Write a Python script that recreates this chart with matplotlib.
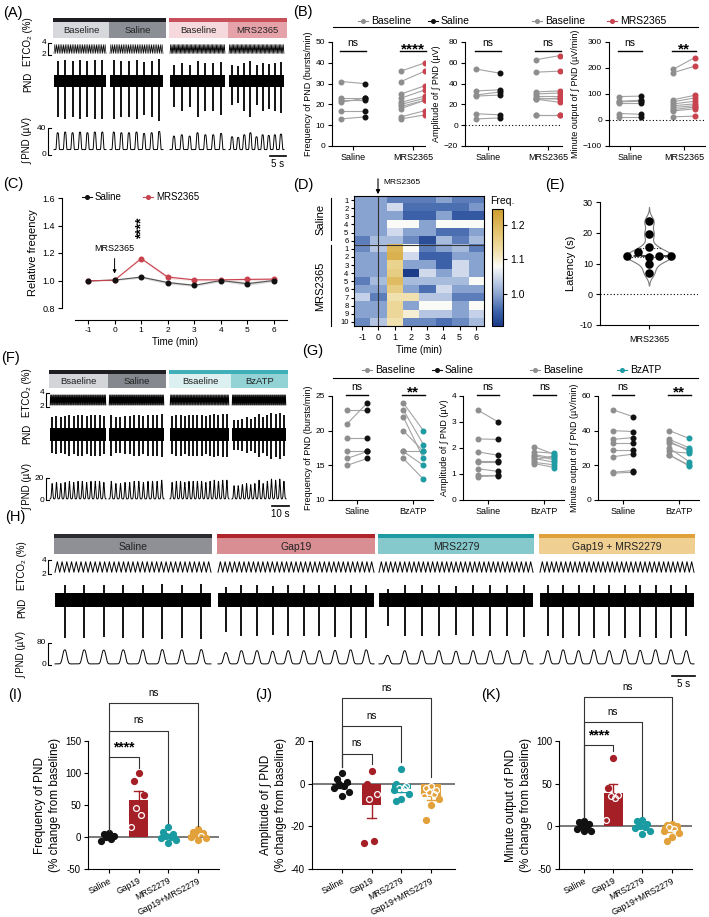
import numpy as np
import matplotlib
matplotlib.use('Agg')
import matplotlib.pyplot as plt
from matplotlib.colors import LinearSegmentedColormap
from matplotlib.patches import Rectangle

plt.rcParams['font.family'] = ['Liberation Sans', 'DejaVu Sans']
plt.rcParams['axes.linewidth'] = 0.8
plt.rcParams['xtick.major.width'] = 0.8
plt.rcParams['ytick.major.width'] = 0.8
plt.rcParams['xtick.major.size'] = 3
plt.rcParams['ytick.major.size'] = 3
plt.rcParams['xtick.labelsize'] = 6
plt.rcParams['ytick.labelsize'] = 6
plt.rcParams['xtick.major.pad'] = 2
plt.rcParams['ytick.major.pad'] = 2
NARROW = ['Liberation Sans Narrow', 'Liberation Sans', 'DejaVu Sans']

# ---------------- DATA ----------------
# (A) integrated PND burst amplitudes (uV) per segment
A_LABELS = ['Baseline', 'Saline', 'Baseline', 'MRS2365']
A_PEAKS = [[33, 34, 33, 34, 33, 34, 34],
           [34, 33, 33, 34, 32, 33, 35],
           [28, 30, 28, 33, 30, 30, 32],
           [27, 26, 30, 33, 27, 30, 29, 30, 31]]
A_BREATHS = [30, 30, 42, 42]

# (B) paired data
B_CATS = ['Saline', 'MRS2365']
B1_SAL_BASE = [31, 23, 22, 21, 17, 13]
B1_SAL_TREAT = [30, 23, 22, 23, 17, 14]
B1_MRS_BASE = [36, 31, 25, 23, 21, 20, 19, 18, 14, 13]
B1_MRS_TREAT = [40, 36, 29, 27, 24, 23, 22, 22, 17, 15]
B2_SAL_BASE = [54, 33, 29, 28, 11, 6]
B2_SAL_TREAT = [50, 34, 32, 29, 10, 7]
B2_MRS_BASE = [63, 51, 32, 30, 28, 26, 25, 25, 10, 10]
B2_MRS_TREAT = [67, 52, 33, 31, 28, 25, 22, 26, 10, 10]
B3_SAL_BASE = [90, 72, 70, 65, 25, 12]
B3_SAL_TREAT = [92, 76, 72, 65, 22, 12]
B3_MRS_BASE = [195, 182, 78, 70, 62, 55, 48, 40, 35, 12]
B3_MRS_TREAT = [240, 207, 95, 85, 72, 62, 55, 50, 43, 15]
B_SIG = [('ns', '****'), ('ns', 'ns'), ('ns', '**')]

# (C) relative frequency
C_TIME = [-1, 0, 1, 2, 3, 4, 5, 6]
C_SALINE = [0.997, 1.003, 1.025, 0.985, 0.965, 1.0, 0.977, 1.0]
C_SALINE_SEM = [0.0, 0.004, 0.008, 0.01, 0.008, 0.008, 0.012, 0.008]
C_MRS = [0.997, 1.003, 1.16, 1.025, 1.005, 1.005, 1.008, 1.01]
C_MRS_SEM = [0.0, 0.004, 0.008, 0.012, 0.008, 0.008, 0.01, 0.01]

# (D) heatmap of relative frequency
D_TIME = [-1, 0, 1, 2, 3, 4, 5, 6]
D_ROWS = ['1', '2', '3', '4', '5', '6', '1', '2', '3', '4', '5', '6', '7', '8', '9', '10']
D_VALUES = [
    [1.00, 1.00, 0.97, 0.97, 0.97, 1.00, 0.97, 0.97],
    [1.00, 1.00, 1.05, 0.96, 0.96, 0.96, 0.96, 0.99],
    [1.00, 1.00, 1.00, 0.95, 0.95, 1.00, 0.94, 0.94],
    [1.00, 1.00, 1.08, 1.08, 1.00, 1.08, 1.08, 1.08],
    [1.00, 1.00, 1.05, 1.00, 1.00, 0.96, 0.96, 1.00],
    [0.97, 1.02, 1.02, 0.98, 0.93, 1.02, 0.97, 1.02],
    [0.98, 1.03, 1.20, 1.08, 0.97, 1.00, 1.02, 0.97],
    [1.00, 1.00, 1.21, 1.05, 0.95, 0.95, 1.00, 1.00],
    [1.00, 1.00, 1.15, 1.00, 1.00, 0.95, 1.05, 1.00],
    [1.00, 1.00, 1.16, 0.91, 1.05, 1.00, 1.05, 1.00],
    [0.97, 1.02, 1.19, 1.02, 1.02, 1.02, 1.02, 1.08],
    [1.00, 1.00, 1.16, 1.00, 0.96, 1.05, 1.00, 1.00],
    [1.04, 0.97, 1.12, 1.12, 1.03, 1.03, 0.97, 0.97],
    [1.00, 1.00, 1.14, 1.00, 1.08, 1.08, 1.00, 1.08],
    [1.00, 1.00, 1.14, 1.10, 1.03, 1.03, 1.00, 1.04],
    [0.98, 1.03, 1.12, 0.98, 0.98, 0.96, 0.98, 1.02],
]

# (E) latency
E_LATENCY = [23.7, 19.6, 15.4, 12.4, 13.7, 12.0, 12.5, 12.3, 9.8, 7.0]
E_SWARM_X = [0.0, 0.0, 0.0, -0.45, -0.23, 0.0, 0.21, 0.45, 0.0, 0.0]

# (F) traces
F_LABELS = ['Bsaeline', 'Saline', 'Bsaeline', 'BzATP']
F_PEAKS = [[15, 16, 15, 16, 17, 16, 17, 17, 16, 17, 17, 17, 16],
           [17, 15, 15, 16, 16, 17, 17, 16, 17, 17, 17, 18],
           [16, 17, 17, 16, 17, 17, 17, 17, 16, 17, 18, 17, 18, 18],
           [13, 13, 14, 15, 14, 15, 18, 15, 17, 19, 18, 19, 17]]
F_BREATHS = [80, 80, 80, 80]

# (G) paired data
G_CATS = ['Saline', 'BzATP']
G1_SAL_BASE = [23, 21, 19, 17, 16, 15]
G1_SAL_TREAT = [23, 24, 19, 17, 17, 16]
G1_BZ_BASE = [24, 23, 22, 20, 17, 17, 16]
G1_BZ_TREAT = [20, 18, 16, 17, 17, 15, 13]
G2_SAL_BASE = [3.45, 2.35, 1.85, 1.5, 1.45, 1.2, 0.95, 0.9]
G2_SAL_TREAT = [3.0, 2.33, 1.72, 1.5, 1.45, 1.1, 0.95, 0.93]
G2_BZ_BASE = [2.05, 1.85, 1.75, 1.7, 1.6, 1.55, 1.45, 1.4]
G2_BZ_TREAT = [1.75, 1.8, 1.6, 1.55, 1.45, 1.7, 1.35, 1.25]
G3_SAL_BASE = [52, 40, 35, 33, 29, 25, 16, 15.5]
G3_SAL_TREAT = [48, 39.5, 36, 33, 29, 26.5, 17, 16]
G3_BZ_BASE = [40, 35, 34, 33, 30, 28, 26, 26]
G3_BZ_TREAT = [35.5, 30, 28, 29, 22, 27, 20, 19.5]
G_SIG = [('ns', '**'), ('ns', 'ns'), ('ns', '**')]

# (H) traces
H_LABELS = ['Saline', 'Gap19', 'MRS2279', 'Gap19 + MRS2279']
H_PEAKS = [[55, 55, 54, 55, 55, 56, 55, 56],
           [45, 52, 52, 50, 52, 52, 52, 53, 55, 55],
           [35, 52, 52, 52, 50, 52, 52, 52, 53],
           [52, 55, 52, 55, 52, 55, 53, 55, 55, 52]]
H_BREATHS = [33, 33, 33, 33]

# (I)(J)(K) % change from baseline
IJK_CATS = ['Saline', 'Gap19', 'MRS2279', 'Gap19+MRS2279']
I_VALUES = [[6, 4, 2, 0, -3, -7],
            [100, 87, 66, 45, 35, 15],
            [16, 8, 5, 2, 0, -2, -5, -10],
            [12, 8, 6, 4, 2, 0, -2, -4]]
J_VALUES = [[5, 2, 1, 0, -1, -2, -4, -6],
            [6, 0, -5, -7, -27, -28],
            [7, 0, -1, -2, -2, -3, -5, -7, -8],
            [-1, -2, -3, -4, -5, -6, -7, -10, -17]]
K_VALUES = [[6, 5, 3, 0, -1, -3, -6, -5],
            [80, 45, 37, 35, 33, 7],
            [8, 6, 3, 0, -2, -5, -9, -1],
            [3, 2, 0, -1, -3, -5, -8, -12, -17]]

# ---------------- STYLE ----------------
GRAY_PT = '#8e8e8e'
LINE_C = '#a3a3a3'
BLACK = '#111111'
RED = '#c9434f'
TEAL = '#1f9ba3'
IJK_COLORS = ['#111111', '#a51f26', '#1a9aa1', '#e3a13b']

W, H = 709, 917
fig = plt.figure(figsize=(W / 100, H / 100), dpi=100)


def pax(x0, y0, x1, y1):
    return fig.add_axes([x0 / W, 1 - y1 / H, (x1 - x0) / W, (y1 - y0) / H])


ov = fig.add_axes([0, 0, 1, 1])
ov.set_xlim(0, W)
ov.set_ylim(H, 0)
ov.axis('off')
ov.set_zorder(5)

for txt, x, y in [('(A)', 3, 13), ('(B)', 293, 12), ('(C)', 3, 184), ('(D)', 293, 185),
                  ('(E)', 545, 185), ('(F)', 1, 358), ('(G)', 302, 351), ('(H)', 5, 517),
                  ('(I)', 8, 695), ('(J)', 255, 695), ('(K)', 481, 695)]:
    ov.text(x, y, txt, fontsize=10.5, va='center', ha='left')


def header(boxes, strips, fills, labels, ys0, ys1, yb1, fs, family=None, gap=0):
    for (bx0, bx1), sc, fc, lab in zip(boxes, strips, fills, labels):
        ov.add_patch(Rectangle((bx0, ys0), bx1 - bx0 - gap, ys1 - ys0, color=sc, lw=0))
        ov.add_patch(Rectangle((bx0, ys1), bx1 - bx0 - gap, yb1 - ys1, color=fc, lw=0))
        kw = {} if family is None else {'family': family}
        ov.text((bx0 + bx1 - gap) / 2, (ys1 + yb1) / 2 + 0.5, lab, ha='center', va='center',
                fontsize=fs, color='#222222', **kw)


def draw_traces(x0, x1, segs, et_y, pnd_y, int_y, pps, peaks, et_cycles,
                pnd_lim, int_lim, int_base, width, band, up_rng, dn_rng, et_lw=0.5, power=4):
    tmax = (x1 - x0) / pps
    ax_et = pax(x0, et_y[0], x1, et_y[1])
    ax_p = pax(x0, pnd_y[0], x1, pnd_y[1])
    ax_i = pax(x0, int_y[0], x1, int_y[1])
    for a, lim in ((ax_et, (2, 4)), (ax_p, pnd_lim), (ax_i, int_lim)):
        a.set_xlim(0, tmax)
        a.set_ylim(*lim)
        a.axis('off')
    allp = np.concatenate([np.asarray(p, float) for p in peaks])
    pmin, pmax = allp.min(), allp.max()
    for (sx0, sx1), pk, nc in zip(segs, peaks, et_cycles):
        ts, te = (sx0 - x0) / pps, (sx1 - x0) / pps
        tt = np.linspace(ts, te, 2 * nc + 1)
        yy = np.where(np.arange(tt.size) % 2 == 0, 2.25, 3.75)
        ax_et.plot(tt, yy, color='k', lw=et_lw)
        ax_p.fill_between([ts, te], -band, band, color='k', lw=0)
        n = len(pk)
        tk = ts + (np.arange(n) + 0.5) * (te - ts) / n
        r = (np.asarray(pk, float) - pmin) / (pmax - pmin + 1e-9)
        ax_p.vlines(tk, 0, up_rng[0] + r * (up_rng[1] - up_rng[0]), color='k', lw=1.3)
        ax_p.vlines(tk, -(dn_rng[0] + r * (dn_rng[1] - dn_rng[0])), 0, color='k', lw=1.3)
        t = np.linspace(ts, te, 1200)
        y = np.full_like(t, float(int_base))
        for tkk, p in zip(tk, pk):
            y += (p - int_base) * np.exp(-np.abs((t - tkk) / width) ** power)
        ax_i.plot(t, y, color='k', lw=0.7)


def vbracket(x, y_top, y_bot, lab_top, lab_bot, fs=6):
    ov.plot([x + 3, x, x, x + 3], [y_top, y_top, y_bot, y_bot], color='k', lw=0.8)
    ov.text(x - 2, y_top, lab_top, ha='right', va='center', fontsize=fs)
    ov.text(x - 2, y_bot, lab_bot, ha='right', va='center', fontsize=fs)


def scalebar(xa, xb, y, lab, fs=7):
    ov.plot([xa, xb], [y, y], color='k', lw=1.2)
    ov.text((xa + xb) / 2, y + 3, lab, ha='center', va='top', fontsize=fs)


def trace_ylabels(x, ys, fs=7):
    for lab, y in zip(['ETCO\u2082 (%)', 'PND', '\u222b PND (\u00b5V)'], ys):
        ov.text(x, y, lab, rotation=90, ha='center', va='center', fontsize=fs)


# ---------------- (A) ----------------
A_BOX = [(53, 109), (109, 166), (169, 228), (228, 287)]
header(A_BOX, ['#1e1e22', '#1e1e22', '#c8505a', '#c8505a'],
       ['#d6d8db', '#8b8e95', '#f6d9dc', '#e5a3a9'], A_LABELS, 18, 22, 38, 6.8)
draw_traces(53, 287, [(b0 + 1, b1 - 3) for b0, b1 in A_BOX], (43, 55), (58, 122), (128, 155),
            3.4, A_PEAKS, A_BREATHS, (-1.0, 0.55), (0, 40), 8, 0.38, 0.15,
            (0.35, 0.52), (0.55, 0.98), et_lw=0.45)
vbracket(48, 43, 55, '4', '2')
vbracket(48, 128, 155, '40', '0')
trace_ylabels(28, [42, 82, 141])
scalebar(270, 286, 156, '5 s')

# ---------------- (B) ----------------
def leg_item(x, y, color, text, fs=7.5):
    ov.plot([x - 5, x + 5], [y, y], color=color, lw=0.8)
    ov.plot([x], [y], 'o', ms=2.6, color=color)
    ov.text(x + 8, y, text, fontsize=fs, va='center', ha='left')


for x, c, t in [(363, GRAY_PT, 'Baseline'), (433, BLACK, 'Saline'),
                (537, GRAY_PT, 'Baseline'), (612, RED, 'MRS2365')]:
    leg_item(x, 21, c, t)
ov.plot([333, 698], [27, 27], color='k', lw=0.8)


def paired(ax, base, treat, pos, col, off=0.2, ms=3.3):
    for b, t in zip(base, treat):
        ax.plot([pos - off, pos + off], [b, t], color=LINE_C, lw=0.8, zorder=1)
    ax.plot([pos - off] * len(base), base, 'o', ms=ms, color=GRAY_PT, zorder=2, lw=0)
    ax.plot([pos + off] * len(treat), treat, 'o', ms=ms, color=col, zorder=3, lw=0)


def style_paired(ax, ylim, yticks, ylabel, cats, xlim, lab_fs=6.5, tick_family=None):
    ax.set_ylim(*ylim)
    ax.set_yticks(yticks)
    ax.set_xlim(*xlim)
    ax.set_xticks([0, 1])
    if tick_family:
        ax.set_xticklabels(cats, family=tick_family, fontsize=6.5)
    else:
        ax.set_xticklabels(cats, fontsize=6.5)
    ax.set_ylabel(ylabel, fontsize=lab_fs, labelpad=2)
    for s in ('top', 'right'):
        ax.spines[s].set_visible(False)


def sig(ax, labels, ybar, ytxt, half=0.22):
    for pos, lab in zip([0, 1], labels):
        ax.plot([pos - half, pos + half], [ybar, ybar], color='k', lw=1.0,
                transform=ax.get_xaxis_transform(), clip_on=False)
        star = '*' in lab
        ax.text(pos, ytxt - (0.06 if star else 0), lab, ha='center', va='center',
                fontsize=11 if star else 7.5, fontweight='bold' if star else 'normal',
                transform=ax.get_xaxis_transform())


B_AX = [pax(332, 42, 425, 146), pax(465, 42, 562, 146), pax(609, 42, 705, 146)]
B_XLIM = [(-0.35, 1.2), (-0.38, 1.23), (-0.39, 1.39)]
B_DATA = [(B1_SAL_BASE, B1_SAL_TREAT, B1_MRS_BASE, B1_MRS_TREAT),
          (B2_SAL_BASE, B2_SAL_TREAT, B2_MRS_BASE, B2_MRS_TREAT),
          (B3_SAL_BASE, B3_SAL_TREAT, B3_MRS_BASE, B3_MRS_TREAT)]
B_YL = [((0, 50), range(0, 51, 10), 'Frequency of PND (bursts/min)'),
        ((-20, 80), range(-20, 81, 20), 'Amplitude of \u222b PND (\u00b5V)'),
        ((-100, 300), range(-100, 301, 100), 'Minute output of \u222b PND (\u00b5V/min)')]
for i, (ax, d, yl) in enumerate(zip(B_AX, B_DATA, B_YL)):
    paired(ax, d[0], d[1], 0, BLACK)
    paired(ax, d[2], d[3], 1, RED)
    style_paired(ax, yl[0], list(yl[1]), yl[2], B_CATS, B_XLIM[i])
    if i > 0:
        ax.axhline(0, color='k', lw=0.8, ls=(0, (1, 2)))
    sig(ax, B_SIG[i], 0.913, 0.99)

# ---------------- (C) ----------------
axc = pax(62, 198, 288, 308)
t = np.array(C_TIME)
for vals, sem, col, lc in [(C_SALINE, C_SALINE_SEM, BLACK, '#555555'), (C_MRS, C_MRS_SEM, RED, RED)]:
    v = np.array(vals)
    s = np.array(sem)
    axc.fill_between(t, v - s, v + s, color=col, alpha=0.15, lw=0)
    axc.plot(t, v, color=lc, lw=0.8, zorder=2)
axc.plot(t, C_MRS, 'o', ms=3.3, color=RED, zorder=3)
axc.plot(t, C_SALINE, 'o', ms=3.3, color=BLACK, zorder=4)
axc.set_ylim(0.8, 1.6)
axc.set_xlim(-1.98, 6.53)
axc.set_yticks([0.8, 1.0, 1.2, 1.4, 1.6])
axc.set_yticklabels(['0.8', '1.0', '1.2', '1.4', '1.6'], fontsize=6.5)
axc.set_xticks(C_TIME)
axc.set_xticklabels([str(v) for v in C_TIME], fontsize=6.5)
axc.spines['top'].set_visible(False)
axc.spines['right'].set_visible(False)
axc.spines['bottom'].set_position(('outward', 8.6))
axc.spines['bottom'].set_bounds(-1.5, 6.5)
axc.set_xlabel('Time (min)', fontsize=7, labelpad=2)
axc.set_ylabel('Relative freqency', fontsize=8, labelpad=3)
axc.annotate('MRS2365', xy=(0, 1.03), xytext=(0, 1.2), ha='center', va='bottom', fontsize=6.5,
             arrowprops=dict(arrowstyle='-|>', lw=0.7, color='k', mutation_scale=5))
axc.text(1, 1.38, '****', rotation=90, ha='center', va='center', fontsize=10, fontweight='bold')
leg_item(87, 197, BLACK, 'Saline', fs=7)
leg_item(148, 197, RED, 'MRS2365', fs=7)

# ---------------- (D) ----------------
cmap = LinearSegmentedColormap.from_list('freq', [
    (0.0, '#1b3a87'), (0.125, '#3d63aa'), (0.273, '#8ba5d1'), (0.392, '#c4d1e9'),
    (0.51, '#fbfbf7'), (0.629, '#f2e2b0'), (0.807, '#e3c36e'), (1.0, '#cf9d2c')])
axd = pax(354, 196, 484, 326)
im = axd.imshow(np.array(D_VALUES), cmap=cmap, vmin=0.908, vmax=1.245, aspect='auto',
                extent=(D_TIME[0] - 0.5, D_TIME[-1] + 0.5, len(D_ROWS), 0), interpolation='nearest')
axd.set_xticks(D_TIME)
axd.set_xticklabels([str(v) for v in D_TIME], fontsize=6.5)
axd.set_yticks(np.arange(len(D_ROWS)) + 0.5)
axd.set_yticklabels(D_ROWS, fontsize=5.5)
axd.tick_params(axis='y', length=2.5, pad=1.5)
axd.axhline(6, color='#333333', lw=0.8)
axd.axvline(0, color='#333333', lw=0.8)
axd.set_xlabel('Time (min)', fontsize=7, labelpad=2)
ov.annotate('', xy=(378, 197), xytext=(378, 176),
            arrowprops=dict(arrowstyle='-|>', lw=0.8, color='k', mutation_scale=6))
ov.text(383, 182, 'MRS2365', fontsize=6, va='center', ha='left')
ov.plot([331, 331], [198, 240], color='k', lw=0.8)
ov.plot([331, 331], [245, 326], color='k', lw=0.8)
ov.text(320, 219, 'Saline', rotation=90, ha='center', va='center', fontsize=8)
ov.text(320, 286, 'MRS2365', rotation=90, ha='center', va='center', fontsize=8)
cax = pax(492, 209, 503, 326)
cb = fig.colorbar(im, cax=cax, ticks=[1.0, 1.1, 1.2])
cb.ax.tick_params(labelsize=7.5, length=3, width=0.8, pad=2)
cb.outline.set_linewidth(0.8)
ov.text(490, 201, 'Freq.', fontsize=7.5, va='center', ha='left')

# ---------------- (E) ----------------
axe = pax(600, 202, 698, 325)
vals = np.array(E_LATENCY)
bw = 1.6
yy = np.linspace(vals.min() - 2.6 * bw, vals.max() + 2.9 * bw, 400)
dens = np.exp(-0.5 * ((yy[:, None] - vals[None, :]) / bw) ** 2).sum(1)
half = dens / dens.max() * 0.47
axe.fill_betweenx(yy, -half, half, facecolor='white', edgecolor='#7a7a7a', lw=0.8, zorder=1)
med = np.median(vals)
q1, q3 = np.percentile(vals, [25, 75])
for q, ls, lw in [(med, (0, (3, 1.5)), 1.2), (q1, (0, (1, 1.5)), 0.8), (q3, (0, (1, 1.5)), 0.8)]:
    hw = np.interp(q, yy, half)
    axe.plot([-hw, hw], [q, q], color='#222222', ls=ls, lw=lw, zorder=2)
axe.scatter(E_SWARM_X, vals, s=38, color='black', zorder=3, lw=0)
axe.axhline(0, color='k', lw=0.8, ls=(0, (1, 2)))
axe.set_xlim(-1, 1)
axe.set_ylim(-10, 30)
axe.set_yticks([-10, 0, 10, 20, 30])
axe.set_yticklabels(['-10', '0', '10', '20', '30'], fontsize=6.5)
axe.set_xticks([0])
axe.set_xticklabels(['MRS2365'], fontsize=6.5)
axe.tick_params(axis='x', pad=4)
axe.set_ylabel('Latency (s)', fontsize=8, labelpad=3)
axe.spines['top'].set_visible(False)
axe.spines['right'].set_visible(False)

# ---------------- (F) ----------------
F_BOX = [(49, 108), (108, 166), (169, 231), (231, 288)]
header(F_BOX, ['#1e1e22', '#1e1e22', '#3fb0b7', '#3fb0b7'],
       ['#d3d5d8', '#85888f', '#dcf0f1', '#93d3d6'], F_LABELS, 370, 374, 388, 6.8)
draw_traces(49, 288, [(b0 + 1, b1 - 2) for b0, b1 in F_BOX], (393, 407), (412, 460), (478, 500),
            1.7, F_PEAKS, F_BREATHS, (-1.0, 0.9), (0, 20), 1, 0.45, 0.26,
            (0.6, 0.85), (0.6, 0.95), et_lw=0.35, power=2)
vbracket(46, 393, 407, '4', '2')
vbracket(46, 478, 500, '20', '0')
trace_ylabels(27, [393, 434, 486])
scalebar(272, 289, 506, '10 s')

# ---------------- (G) ----------------
for x, c, t in [(367, GRAY_PT, 'Baseline'), (437, BLACK, 'Saline'),
                (535, GRAY_PT, 'Baseline'), (622, TEAL, 'BzATP')]:
    leg_item(x, 370, c, t)
ov.plot([333, 698], [378, 378], color='k', lw=0.8)

G_AX = [pax(332, 396, 433, 500), pax(463, 396, 564, 500), pax(598, 396, 699, 500)]
G_DATA = [(G1_SAL_BASE, G1_SAL_TREAT, G1_BZ_BASE, G1_BZ_TREAT),
          (G2_SAL_BASE, G2_SAL_TREAT, G2_BZ_BASE, G2_BZ_TREAT),
          (G3_SAL_BASE, G3_SAL_TREAT, G3_BZ_BASE, G3_BZ_TREAT)]
G_YL = [((10, 25), [10, 15, 20, 25], 'Frequency of PND (bursts/min)'),
        ((0, 4), [0, 1, 2, 3, 4], 'Amplitude of \u222b PND (\u00b5V)'),
        ((0, 60), [0, 20, 40, 60], 'Minute output of \u222b PND (\u00b5V/min)')]
for i, (ax, d, yl) in enumerate(zip(G_AX, G_DATA, G_YL)):
    paired(ax, d[0], d[1], 0, BLACK, off=0.18)
    paired(ax, d[2], d[3], 1, TEAL, off=0.18)
    style_paired(ax, yl[0], yl[1], yl[2], G_CATS, (-0.45, 1.35), tick_family=NARROW)
    sig(ax, G_SIG[i], 1.01, 1.09, half=0.2)

# ---------------- (H) ----------------
H_BOX = [(54, 216), (217, 379), (378, 538), (539, 699)]
header(H_BOX, ['#2b2b30', '#b0242c', '#1f9aa3', '#e0a13a'],
       ['#8e9096', '#d98e93', '#86c9cd', '#f0cf93'], H_LABELS, 534, 538, 554, 7.5,
       family=NARROW, gap=4)
draw_traces(54, 695, [(b0 + 1, b1 - 5) for b0, b1 in H_BOX], (560, 574), (583, 640), (643, 665),
            4.6, H_PEAKS, H_BREATHS, (-1.4, 0.6), (0, 80), 4, 0.6, 0.25,
            (0.38, 0.55), (0.9, 1.35), et_lw=0.7, power=2.5)
vbracket(48, 560, 574, '4', '2')
vbracket(48, 643, 665, '80', '0')
trace_ylabels(22, [566, 608, 655])
scalebar(672, 695, 676, '5 s')

# ---------------- (I)(J)(K) ----------------
SWARM = [0.0, -0.17, 0.17, -0.08, 0.08, -0.25, 0.25, 0.0, -0.17, 0.17]


def bar_panel(ax, groups, ylim, yticks, ylabel, xlim):
    ax.axhline(0, color='#555555', lw=1.1, zorder=1)
    for i, (vals, col) in enumerate(zip(groups, IJK_COLORS)):
        v = np.array(vals, float)
        m = v.mean()
        sem = v.std(ddof=1) / np.sqrt(v.size)
        ax.bar(i, m, width=0.65, color=col, zorder=2, lw=0)
        sgn = 1 if m >= 0 else -1
        ax.plot([i, i], [m, m + sgn * sem], color=col, lw=1.0, zorder=2)
        ax.plot([i - 0.15, i + 0.15], [m + sgn * sem] * 2, color=col, lw=1.0, zorder=2)
        order = np.argsort(-v)
        for k, idx in enumerate(order):
            y = v[idx]
            inside = (0 < y < m) or (m < y < 0)
            if inside and i > 0:
                ax.plot(i + SWARM[k % len(SWARM)], y, 'o', ms=4.2, mfc='none', mec='white',
                        mew=0.9, zorder=3)
            else:
                ax.plot(i + SWARM[k % len(SWARM)], y, 'o', ms=4.2, color=col, mec=col, zorder=3)
    ax.set_ylim(*ylim)
    ax.set_yticks(yticks)
    ax.set_yticklabels([str(v) for v in yticks], fontsize=7)
    ax.set_xlim(*xlim)
    ax.set_xticks(range(len(IJK_CATS)))
    ax.set_xticklabels(IJK_CATS, rotation=28, ha='right', rotation_mode='anchor',
                       family=NARROW, fontsize=6.2)
    ax.set_ylabel(ylabel, fontsize=8.5, labelpad=3, linespacing=1.3)
    for s in ('top', 'right'):
        ax.spines[s].set_visible(False)


def bracket(ax, x1, y, leg0, leg1, text):
    ax.plot([0, 0, x1, x1], [leg0, y, y, leg1], color='#333333', lw=0.8, clip_on=False, zorder=4)
    star = '*' in text
    ax.annotate(text, xy=(x1 / 2, y), xytext=(0, 2 if star else 4), textcoords='offset points',
                ha='center', va='bottom', fontsize=10 if star else 7,
                fontweight='bold' if star else 'normal',
                family=['Liberation Sans', 'DejaVu Sans'] if star else NARROW,
                annotation_clip=False)


IJK_TOP, IJK_BOT = 741, 869
axi = pax(88, IJK_TOP, 219, IJK_BOT)
bar_panel(axi, I_VALUES, (-50, 150), [-50, 0, 50, 100, 150],
          'Frequency of PND\n(% change from baseline)', (-0.7, 3.7))
bracket(axi, 1, 125, 10, 108, '****')
bracket(axi, 2, 166, 10, 22, 'ns')
bracket(axi, 3, 209, 10, 17, 'ns')

axj = pax(312, IJK_TOP, 455, IJK_BOT)
bar_panel(axj, J_VALUES, (-40, 20), [-40, -20, 0, 20],
          'Amplitude of \u222b PND\n(% change from baseline)', (-1.0, 3.8))
bracket(axj, 1, 14, 8, 9, 'ns')
bracket(axj, 2, 27, 8, 10, 'ns')
bracket(axj, 3, 40, 8, 3, 'ns')

axk = pax(559, IJK_TOP, 692, IJK_BOT)
bar_panel(axk, K_VALUES, (-50, 100), [-50, 0, 50, 100],
          'Minute output of PND\n(% change from baseline)', (-0.85, 3.7))
bracket(axk, 1, 95, 10, 88, '****')
bracket(axk, 2, 122, 10, 12, 'ns')
bracket(axk, 3, 151, 10, 8, 'ns')

fig.savefig('out.png', dpi=100)
